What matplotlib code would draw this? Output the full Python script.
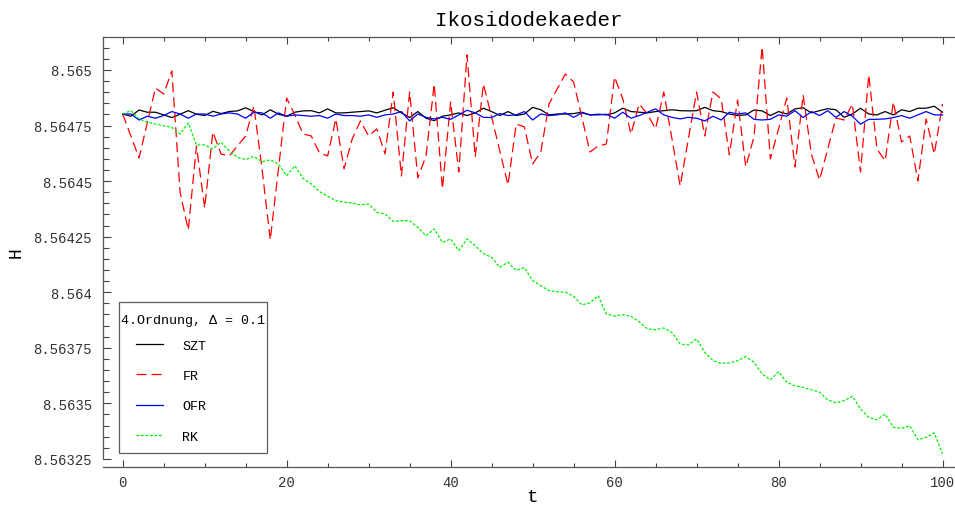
import numpy as np
import matplotlib
matplotlib.use("Agg")
from matplotlib import pyplot as plt
from matplotlib.ticker import MultipleLocator, FuncFormatter
from matplotlib.legend_handler import HandlerLine2D
from matplotlib.lines import Line2D

t = np.arange(0, 101)

szt = [
    8.564802, 8.564792, 8.564820, 8.564810, 8.564810, 8.564798, 8.564786, 8.564801, 8.564817, 8.564801,
    8.564795, 8.564814, 8.564804, 8.564813, 8.564816, 8.564830, 8.564813, 8.564798, 8.564821, 8.564801,
    8.564792, 8.564810, 8.564816, 8.564817, 8.564807, 8.564825, 8.564807, 8.564807, 8.564810, 8.564813,
    8.564816, 8.564807, 8.564819, 8.564830, 8.564807, 8.564786, 8.564813, 8.564783, 8.564772, 8.564792,
    8.564798, 8.564807, 8.564795, 8.564807, 8.564828, 8.564813, 8.564795, 8.564813, 8.564795, 8.564802,
    8.564832, 8.564821, 8.564798, 8.564802, 8.564802, 8.564804, 8.564810, 8.564798, 8.564801, 8.564798,
    8.564807, 8.564828, 8.564813, 8.564810, 8.564807, 8.564813, 8.564817, 8.564821, 8.564817, 8.564816,
    8.564817, 8.564832, 8.564817, 8.564813, 8.564802, 8.564795, 8.564798, 8.564820, 8.564816, 8.564795,
    8.564813, 8.564802, 8.564825, 8.564830, 8.564807, 8.564817, 8.564826, 8.564821, 8.564787, 8.564802,
    8.564828, 8.564802, 8.564798, 8.564813, 8.564798, 8.564821, 8.564813, 8.564828, 8.564828, 8.564837,
    8.564810,
]

fr = [
    8.564802, 8.564703, 8.564604, 8.564762, 8.564919, 8.564892, 8.564996, 8.564451, 8.564280, 8.564658,
    8.564379, 8.564721, 8.564622, 8.564613, 8.564658, 8.564703, 8.564838, 8.564555, 8.564235, 8.564555,
    8.564874, 8.564798, 8.564712, 8.564703, 8.564627, 8.564613, 8.564780, 8.564555, 8.564690, 8.564771,
    8.564703, 8.564735, 8.564622, 8.564901, 8.564523, 8.564901, 8.564514, 8.564613, 8.564937, 8.564465,
    8.564856, 8.564541, 8.565068, 8.564609, 8.564937, 8.564789, 8.564636, 8.564483, 8.564757, 8.564744,
    8.564577, 8.564631, 8.564847, 8.564915, 8.564982, 8.564946, 8.564789, 8.564631, 8.564658, 8.564667,
    8.564969, 8.564870, 8.564712, 8.564847, 8.564802, 8.564735, 8.564901, 8.564690, 8.564478, 8.564690,
    8.564901, 8.564703, 8.564901, 8.564870, 8.564618, 8.564865, 8.564564, 8.564699, 8.565104, 8.564600,
    8.564735, 8.564874, 8.564564, 8.564888, 8.564622, 8.564505, 8.564645, 8.564784, 8.564775, 8.564847,
    8.564541, 8.564978, 8.564645, 8.564591, 8.564856, 8.564676, 8.564703, 8.564501, 8.564780, 8.564622,
    8.564847,
]

ofr = [
    8.564802, 8.564802, 8.564775, 8.564792, 8.564783, 8.564795, 8.564813, 8.564802, 8.564783, 8.564802,
    8.564802, 8.564792, 8.564802, 8.564807, 8.564802, 8.564783, 8.564810, 8.564807, 8.564783, 8.564807,
    8.564792, 8.564798, 8.564795, 8.564792, 8.564795, 8.564783, 8.564802, 8.564795, 8.564795, 8.564792,
    8.564798, 8.564787, 8.564798, 8.564802, 8.564813, 8.564771, 8.564802, 8.564787, 8.564780, 8.564787,
    8.564778, 8.564798, 8.564819, 8.564807, 8.564787, 8.564786, 8.564804, 8.564795, 8.564798, 8.564813,
    8.564775, 8.564802, 8.564795, 8.564798, 8.564807, 8.564787, 8.564807, 8.564798, 8.564798, 8.564801,
    8.564783, 8.564810, 8.564783, 8.564795, 8.564810, 8.564825, 8.564798, 8.564787, 8.564780, 8.564787,
    8.564783, 8.564771, 8.564792, 8.564775, 8.564810, 8.564802, 8.564807, 8.564778, 8.564775, 8.564778,
    8.564798, 8.564792, 8.564817, 8.564786, 8.564813, 8.564795, 8.564817, 8.564787, 8.564813, 8.564792,
    8.564756, 8.564778, 8.564778, 8.564780, 8.564786, 8.564795, 8.564783, 8.564798, 8.564813, 8.564798,
    8.564798,
]

rk = [
    8.564802, 8.564817, 8.564780, 8.564765, 8.564757, 8.564749, 8.564742, 8.564712, 8.564762, 8.564663,
    8.564663, 8.564645, 8.564675, 8.564636, 8.564607, 8.564597, 8.564611, 8.564587, 8.564596, 8.564577,
    8.564524, 8.564569, 8.564512, 8.564487, 8.564453, 8.564432, 8.564412, 8.564405, 8.564402, 8.564393,
    8.564397, 8.564360, 8.564352, 8.564319, 8.564322, 8.564322, 8.564292, 8.564254, 8.564285, 8.564224,
    8.564240, 8.564187, 8.564240, 8.564209, 8.564174, 8.564157, 8.564112, 8.564135, 8.564098, 8.564111,
    8.564052, 8.564029, 8.564007, 8.564002, 8.564000, 8.563982, 8.563943, 8.563952, 8.563984, 8.563902,
    8.563892, 8.563899, 8.563892, 8.563867, 8.563835, 8.563831, 8.563839, 8.563819, 8.563767, 8.563763,
    8.563790, 8.563730, 8.563692, 8.563680, 8.563682, 8.563692, 8.563710, 8.563685, 8.563632, 8.563606,
    8.563642, 8.563595, 8.563579, 8.563572, 8.563561, 8.563550, 8.563516, 8.563502, 8.563512, 8.563532,
    8.563475, 8.563437, 8.563426, 8.563452, 8.563392, 8.563388, 8.563399, 8.563336, 8.563347, 8.563367,
    8.563272,
]

plt.rcParams['font.family'] = ['Liberation Mono', 'DejaVu Sans Mono']

fig = plt.figure(figsize=(9.55, 5.06), dpi=100)
ax = fig.add_axes([103 / 955, 1 - 468 / 506, 851 / 955, 430 / 506])

ax.plot(t, szt, color="black", lw=0.9, label="SZT")
ax.plot(t, fr, color="#ff0000", lw=0.9, dashes=(8, 4), label="FR")
ax.plot(t, ofr, color="#0000ff", lw=0.9, label="OFR")
ax.plot(t, rk, color="#00f000", lw=0.9, dashes=(2.2, 1.4), label="RK")

ax.set_xlim(-2.4, 101.4)
ax.set_ylim(8.5632135, 8.5651485)

ax.xaxis.set_major_locator(MultipleLocator(20))
ax.xaxis.set_minor_locator(MultipleLocator(5))
ax.yaxis.set_major_locator(MultipleLocator(0.00025))
ax.yaxis.set_minor_locator(MultipleLocator(0.00005))
ax.yaxis.set_major_formatter(FuncFormatter(lambda v, p: f"{v:.5f}".rstrip("0").rstrip(".")))

ax.tick_params(which="both", direction="in", top=True, right=False,
               colors="#444444", labelcolor="#333333", labelsize=10, width=0.8)
ax.tick_params(axis="x", which="major", length=5, pad=6)
ax.tick_params(axis="x", which="minor", length=3)
ax.tick_params(axis="y", which="major", length=6, pad=8)
ax.tick_params(axis="y", which="minor", length=4)

for s in ["left", "top", "bottom"]:
    ax.spines[s].set_color("#555555")
    ax.spines[s].set_linewidth(0.9)
ax.spines["right"].set_visible(False)
ax.spines["left"].set_bounds(8.56325, 8.5651485)

ax.set_title("Ikosidodekaeder", fontsize=15, pad=9)
ax.set_xlabel("t", fontsize=14)
ax.set_ylabel("H", fontsize=13)
ax.xaxis.set_label_coords(0.504, -0.048)
ax.yaxis.set_label_coords(-0.092, 0.5)

fs = 9.6
leg = ax.legend(title="4.Ordnung, \u0394 = 0.1", loc="lower left",
                bbox_to_anchor=(119 / 955, 1 - 454 / 506), bbox_transform=fig.transFigure,
                borderaxespad=0, fontsize=fs, title_fontsize=fs, handlelength=2.55,
                handletextpad=1.43, labelspacing=1.35, borderpad=0.15,
                fancybox=False, frameon=True, alignment="left",
                handler_map={Line2D: HandlerLine2D(xpad=0.525)})
leg.get_frame().set_edgecolor("#333333")
leg.get_frame().set_linewidth(0.9)
leg._legend_box.sep = 11.1
leg._legend_handle_box.pad = 5.9
leg.get_title().set_y(-10.5)

fig.savefig("out.png", dpi=100)
